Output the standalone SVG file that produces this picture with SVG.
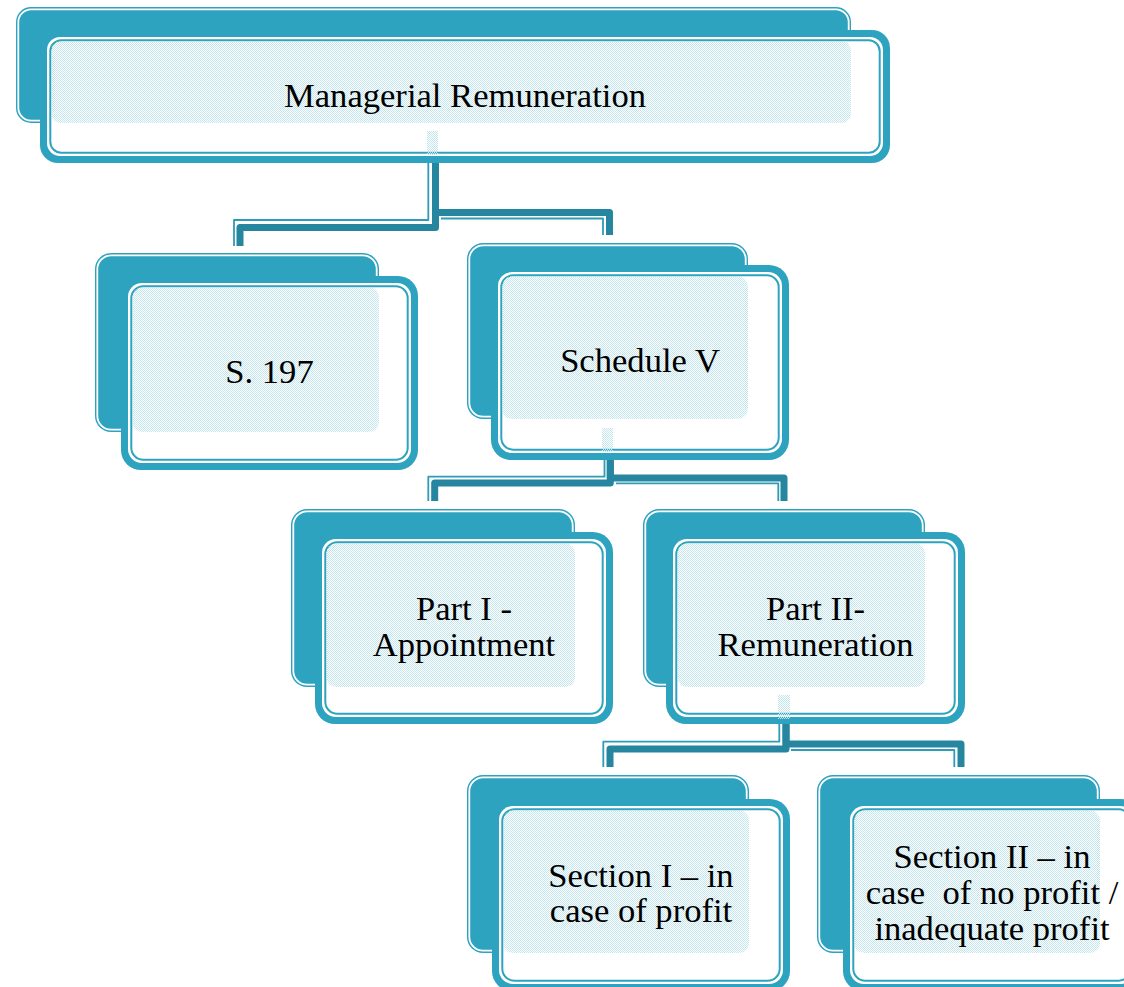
<svg xmlns="http://www.w3.org/2000/svg" width="1124" height="987" viewBox="0 0 1124 987">
<defs>
<pattern id="dots" width="2" height="2" patternUnits="userSpaceOnUse">
<rect x="0" y="0" width="1" height="1" fill="#c2e5ee"/>
<rect x="1" y="1" width="1" height="1" fill="#c2e5ee"/>
</pattern>
<style>
.bk{fill:#2ea3bf;}
.bkw{fill:none;stroke:#ffffff;stroke-width:1.8;}
.fo{fill:#2ea3bf;}
.fw{fill:#ffffff;}
.ft{fill:none;stroke:#2ea3bf;stroke-width:2;}
.dt{fill:url(#dots);}
.dk{fill:none;stroke:#26869f;stroke-width:7;stroke-linejoin:round;}
.th{fill:none;stroke:#2e9cb8;stroke-width:1.8;stroke-linejoin:round;}
text{font-family:'Liberation Serif','Times New Roman',Times,serif;font-size:34.6px;fill:#000000;text-anchor:middle;}
</style>
</defs>
<rect width="1124" height="987" fill="#ffffff"/>
<g id="connectors">
<path class="dk" d="M435.5 160 V227.5 H240 V246"/>
<path class="th" d="M428.3 160 V220 H234 V246"/>
<path class="dk" d="M435.5 160 V212.5 H609.5 V235"/>
<path class="th" d="M441 218.5 H603 V235"/>
<path class="dk" d="M610.3 457 V483 H434.7 V501"/>
<path class="th" d="M604.5 457 V476.7 H428.3 V501"/>
<path class="dk" d="M610.3 457 V478 H784 V501"/>
<path class="th" d="M616 483.3 H778.3 V501"/>
<path class="dk" d="M786 721 V749 H610 V767"/>
<path class="th" d="M779.3 721 V741.7 H603.3 V767"/>
<path class="dk" d="M786 721 V744 H961 V767"/>
<path class="th" d="M791 750 H954.3 V767"/>
</g>
<g id="node-root">
<rect class="bk" x="16" y="7" width="835" height="116" rx="15"/>
<rect class="bkw" x="18.3" y="9.3" width="830.4" height="111.4" rx="13"/>
<rect class="fo" x="40" y="30" width="850" height="133" rx="18"/>
<rect class="fw" x="47" y="37" width="836" height="119" rx="13"/>
<rect class="ft" x="50.3" y="40.3" width="829.4" height="112.4" rx="11"/>
<rect class="dt" x="51.3" y="41.3" width="799.7" height="81.7" rx="9"/>
<rect class="dt" x="427" y="131" width="11" height="24"/>
<text x="465" y="107" font-family="Liberation Serif, serif">Managerial Remuneration</text>
</g>
<g id="node-s197">
<rect class="bk" x="95" y="253" width="284" height="179" rx="16"/>
<rect class="bkw" x="97.3" y="255.3" width="279.4" height="174.4" rx="14"/>
<rect class="fo" x="121" y="276" width="297" height="194" rx="20"/>
<rect class="fw" x="128" y="283" width="283" height="180" rx="14"/>
<rect class="ft" x="131.3" y="286.3" width="276.4" height="173.4" rx="12"/>
<rect class="dt" x="132.3" y="287.3" width="246.7" height="144.7" rx="10"/>
<text x="269.5" y="383" font-family="Liberation Serif, serif">S. 197</text>
</g>
<g id="node-schedule">
<rect class="bk" x="467" y="243" width="281" height="176" rx="16"/>
<rect class="bkw" x="469.3" y="245.3" width="276.4" height="171.4" rx="14"/>
<rect class="fo" x="491" y="265" width="298" height="195" rx="20"/>
<rect class="fw" x="498" y="272" width="284" height="181" rx="14"/>
<rect class="ft" x="501.3" y="275.3" width="277.4" height="174.4" rx="12"/>
<rect class="dt" x="502.3" y="276.3" width="245.7" height="142.7" rx="10"/>
<rect class="dt" x="602" y="428" width="11" height="24"/>
<text x="640" y="372" font-family="Liberation Serif, serif">Schedule V</text>
</g>
<g id="node-part1">
<rect class="bk" x="291" y="509" width="284" height="178" rx="16"/>
<rect class="bkw" x="293.3" y="511.3" width="279.4" height="173.4" rx="14"/>
<rect class="fo" x="315" y="532" width="298" height="192" rx="20"/>
<rect class="fw" x="322" y="539" width="284" height="178" rx="14"/>
<rect class="ft" x="325.3" y="542.3" width="277.4" height="171.4" rx="12"/>
<rect class="dt" x="326.3" y="543.3" width="248.7" height="143.7" rx="10"/>
<text x="464" y="620" font-family="Liberation Serif, serif">Part I -</text>
<text x="464" y="656" font-family="Liberation Serif, serif">Appointment</text>
</g>
<g id="node-part2">
<rect class="bk" x="643" y="509" width="282" height="178" rx="16"/>
<rect class="bkw" x="645.3" y="511.3" width="277.4" height="173.4" rx="14"/>
<rect class="fo" x="666" y="532" width="299" height="192" rx="20"/>
<rect class="fw" x="673" y="539" width="285" height="178" rx="14"/>
<rect class="ft" x="676.3" y="542.3" width="278.4" height="171.4" rx="12"/>
<rect class="dt" x="677.3" y="543.3" width="247.7" height="143.7" rx="10"/>
<rect class="dt" x="778" y="695" width="12" height="24"/>
<text x="815.5" y="620" font-family="Liberation Serif, serif">Part II-</text>
<text x="815.5" y="656" font-family="Liberation Serif, serif">Remuneration</text>
</g>
<g id="node-sec1">
<rect class="bk" x="467" y="775" width="282" height="178" rx="16"/>
<rect class="bkw" x="469.3" y="777.3" width="277.4" height="173.4" rx="14"/>
<rect class="fo" x="492" y="799" width="298" height="192" rx="20"/>
<rect class="fw" x="499" y="806" width="284" height="178" rx="14"/>
<rect class="ft" x="502.3" y="809.3" width="277.4" height="171.4" rx="12"/>
<rect class="dt" x="503.3" y="810.3" width="245.7" height="142.7" rx="10"/>
<text x="641" y="887" font-family="Liberation Serif, serif">Section I – in</text>
<text x="641" y="922" font-family="Liberation Serif, serif">case of profit</text>
</g>
<g id="node-sec2">
<rect class="bk" x="817" y="775" width="283" height="178" rx="16"/>
<rect class="bkw" x="819.3" y="777.3" width="278.4" height="173.4" rx="14"/>
<rect class="fo" x="843" y="799" width="298" height="192" rx="20"/>
<rect class="fw" x="850" y="806" width="284" height="178" rx="14"/>
<rect class="ft" x="853.3" y="809.3" width="277.4" height="171.4" rx="12"/>
<rect class="dt" x="854.3" y="810.3" width="245.7" height="142.7" rx="10"/>
<text x="992" y="868" font-family="Liberation Serif, serif">Section II – in</text>
<text x="992" y="904" font-family="Liberation Serif, serif" xml:space="preserve" style="white-space:pre">case  of no profit /</text>
<text x="992" y="940" font-family="Liberation Serif, serif">inadequate profit</text>
</g>
</svg>
